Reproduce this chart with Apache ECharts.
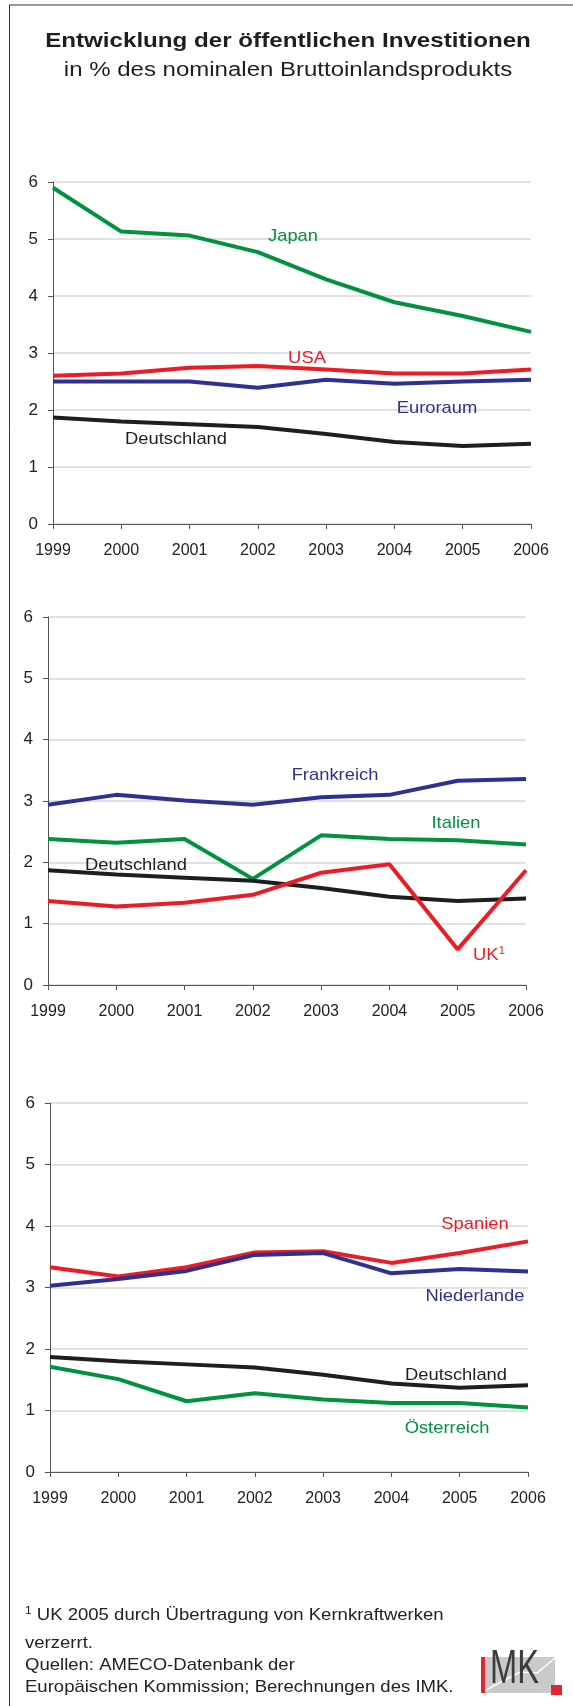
<!DOCTYPE html>
<html>
<head>
<meta charset="utf-8">
<script src="https://cdn.jsdelivr.net/npm/echarts@6/dist/echarts.min.js"></script>
<style>
  html, body { margin: 0; padding: 0; background: #fff; }
  #main { width: 573px; height: 1706px; }
</style>
</head>
<body>
<div id="main"></div>
<script>
// Jahre und Werte (in % des BIP)
const years = ['1999', '2000', '2001', '2002', '2003', '2004', '2005', '2006']
const deutschland = [1.87, 1.80, 1.75, 1.70, 1.58, 1.44, 1.37, 1.41]
const japan = [5.90, 5.13, 5.06, 4.77, 4.29, 3.89, 3.65, 3.37]
const usa = [2.60, 2.64, 2.74, 2.77, 2.71, 2.64, 2.64, 2.71]
const euroraum = [2.50, 2.50, 2.50, 2.39, 2.53, 2.46, 2.50, 2.53]
const frankreich = [2.94, 3.10, 3.01, 2.94, 3.06, 3.10, 3.33, 3.36]
const italien = [2.38, 2.32, 2.38, 1.73, 2.44, 2.38, 2.36, 2.29]
const uk = [1.37, 1.28, 1.34, 1.47, 1.83, 1.97, 0.58, 1.87]
const spanien = [3.33, 3.18, 3.33, 3.57, 3.59, 3.40, 3.56, 3.75]
const niederlande = [3.03, 3.14, 3.27, 3.53, 3.56, 3.23, 3.30, 3.26]
const oesterreich = [1.71, 1.51, 1.15, 1.28, 1.18, 1.12, 1.12, 1.05]

const FONT = 'Liberation Sans, Arial, Helvetica, sans-serif'
const GREEN = '#00923f'
const RED = '#ec1c24'
const BLUE = '#2e3192'
const BLACK = '#1e1e1e'

const myChart = echarts.init(document.getElementById('main'))

function xAxis(i) {
  return {
    type: 'category',
    gridIndex: i,
    data: years,
    boundaryGap: false,
    axisLine: { lineStyle: { color: '#555', width: 1 } },
    axisTick: { show: true, length: 5, lineStyle: { color: '#555' } },
    axisLabel: { margin: 19, fontSize: 16, color: '#222', fontFamily: FONT },
    splitLine: { show: false }
  }
}

function yAxis(i) {
  return {
    type: 'value',
    gridIndex: i,
    min: 0,
    max: 6,
    interval: 1,
    axisLine: { show: true, lineStyle: { color: '#555', width: 1 } },
    axisTick: { show: true, length: 5, lineStyle: { color: '#555' } },
    axisLabel: { margin: 15, fontSize: 17, color: '#222', fontFamily: FONT },
    splitLine: { show: true, lineStyle: { color: '#d8d8d8', width: 1.5 } }
  }
}

function line(name, data, color, i) {
  return {
    name: name,
    type: 'line',
    xAxisIndex: i,
    yAxisIndex: i,
    data: data,
    symbol: 'none',
    lineStyle: { color: color, width: 4 },
    itemStyle: { color: color },
    animation: false
  }
}

// Beschriftung im Diagramm
function label(text, x, y, color, extra) {
  return Object.assign({
    type: 'text',
    x: x,
    y: y,
    scaleX: 1.08,
    style: {
      text: text,
      fill: color,
      font: '17px ' + FONT,
      align: 'center',
      verticalAlign: 'middle'
    },
    z: 10
  }, extra || {})
}

function footer(text, y, rich) {
  return {
    type: 'text',
    x: 25,
    y: y,
    scaleX: 1.09,
    style: {
      text: text,
      fill: '#222',
      font: '17px ' + FONT,
      align: 'left',
      verticalAlign: 'middle',
      rich: rich
    }
  }
}

const option = {
  backgroundColor: '#fff',
  textStyle: { fontFamily: FONT },
  grid: [
    { left: 53, right: 42, top: 182, height: 342 },
    { left: 48, right: 47, top: 617, height: 368 },
    { left: 50, right: 45, top: 1103, height: 369 }
  ],
  xAxis: [xAxis(0), xAxis(1), xAxis(2)],
  yAxis: [yAxis(0), yAxis(1), yAxis(2)],
  series: [
    line('Japan', japan, GREEN, 0),
    line('USA', usa, RED, 0),
    line('Euroraum', euroraum, BLUE, 0),
    line('Deutschland', deutschland, BLACK, 0),

    line('Frankreich', frankreich, BLUE, 1),
    line('Italien', italien, GREEN, 1),
    line('Deutschland', deutschland, BLACK, 1),
    line('UK', uk, RED, 1),

    line('Spanien', spanien, RED, 2),
    line('Niederlande', niederlande, BLUE, 2),
    line('Deutschland', deutschland, BLACK, 2),
    line('Österreich', oesterreich, GREEN, 2)
  ],
  graphic: [
    // Rahmen oben und links
    { type: 'line', shape: { x1: 9, y1: 5, x2: 573, y2: 5 }, style: { stroke: '#777', lineWidth: 1.5 } },
    { type: 'line', shape: { x1: 9.5, y1: 5, x2: 9.5, y2: 1706 }, style: { stroke: '#333', lineWidth: 1 } },

    // Titel
    {
      type: 'text', x: 288, y: 41, scaleX: 1.15,
      style: { text: 'Entwicklung der öffentlichen Investitionen', fill: '#1e1e1e', font: 'bold 21px ' + FONT, align: 'center', verticalAlign: 'middle' }
    },
    {
      type: 'text', x: 288, y: 70, scaleX: 1.2,
      style: { text: 'in % des nominalen Bruttoinlandsprodukts', fill: '#1e1e1e', font: '20px ' + FONT, align: 'center', verticalAlign: 'middle' }
    },

    // Diagramm 1
    label('Japan', 293, 236, GREEN),
    label('USA', 307, 358, RED),
    label('Euroraum', 437, 408, BLUE),
    label('Deutschland', 176, 439, BLACK),

    // Diagramm 2
    label('Frankreich', 335, 775, BLUE),
    label('Italien', 456, 823, GREEN),
    label('Deutschland', 136, 865, BLACK),
    {
      type: 'text', x: 473, y: 955, scaleX: 1.08,
      style: {
        text: 'UK{s|1}', fill: RED, font: '17px ' + FONT, align: 'left', verticalAlign: 'middle',
        rich: { s: { fontSize: 11, fill: RED, verticalAlign: 'top', padding: [0, 0, 8, 0] } }
      },
      z: 10
    },

    // Diagramm 3
    label('Spanien', 475, 1224, RED),
    label('Niederlande', 475, 1296, BLUE),
    label('Deutschland', 456, 1375, BLACK),
    label('Österreich', 447, 1428, GREEN),

    // Fußnote und Quelle
    footer('{s|1} UK 2005 durch Übertragung von Kernkraftwerken', 1615,
      { s: { fontSize: 11, verticalAlign: 'top', padding: [0, 0, 8, 0] } }),
    footer('verzerrt.', 1643),
    footer('Quellen: AMECO-Datenbank der', 1665),
    footer('Europäischen Kommission; Berechnungen des IMK.', 1687),

    // IMK-Logo
    { type: 'rect', shape: { x: 485, y: 1657, width: 70, height: 36 }, style: { fill: '#c9cacc' } },
    { type: 'rect', shape: { x: 481, y: 1657, width: 4, height: 36 }, style: { fill: '#e3262d' } },
    {
      type: 'polyline',
      shape: { points: [[486, 1690], [520, 1672], [537, 1673], [555, 1658]] },
      style: { stroke: '#fff', lineWidth: 1.5, fill: null }
    },
    {
      type: 'text', x: 490, y: 1694, scaleX: 0.68,
      style: { text: 'MK', fill: '#3d3d3d', font: '48px ' + FONT, align: 'left', verticalAlign: 'bottom' }
    },
    { type: 'rect', shape: { x: 551, y: 1685, width: 11, height: 10 }, style: { fill: '#e3262d' } }
  ]
}

myChart.setOption(option)
</script>
</body>
</html>
